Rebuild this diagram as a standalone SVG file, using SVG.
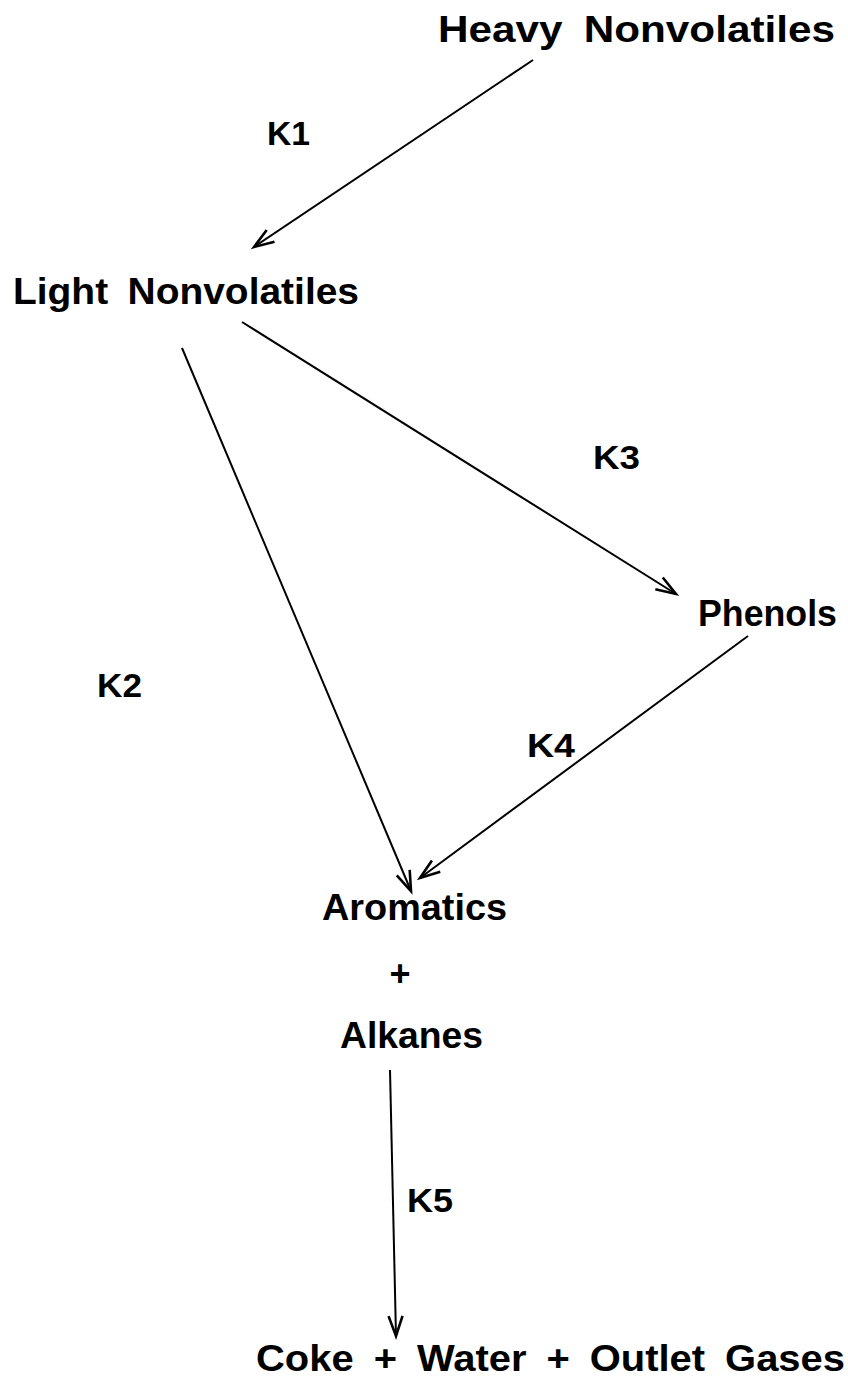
<svg xmlns="http://www.w3.org/2000/svg" width="848" height="1379" viewBox="0 0 848 1379">
<defs>
<marker id="arr" markerUnits="userSpaceOnUse" markerWidth="40" markerHeight="40" refX="0" refY="0" viewBox="-25 -20 30 40" orient="auto">
<path d="M-20,-7 L0,0 L-20,7" fill="none" stroke="#000" stroke-width="2.6" stroke-linejoin="miter"/>
</marker>
<style>
.t{font-family:"Liberation Sans",Arial,sans-serif;font-weight:bold;font-size:36px;fill:#000;word-spacing:8px}
.k{font-family:"Liberation Sans",Arial,sans-serif;font-weight:bold;font-size:33px;fill:#000}
.e{stroke:#000;stroke-width:2;fill:none;marker-end:url(#arr)}
</style>
</defs>
<rect width="848" height="1379" fill="#fff"/>
<g id="connectors">
<line class="e" x1="533" y1="60" x2="254" y2="247"/>
<line class="e" x1="182" y1="348" x2="411" y2="891"/>
<line class="e" x1="242" y1="322" x2="676" y2="594"/>
<line class="e" x1="748" y1="636" x2="420" y2="878"/>
<line class="e" x1="390" y1="1070" x2="396" y2="1336"/>
</g>
<g id="heavy"><text class="t" x="438" y="42" textLength="397" lengthAdjust="spacingAndGlyphs">Heavy Nonvolatiles</text></g>
<g id="light"><text class="t" x="13" y="304" textLength="346" lengthAdjust="spacingAndGlyphs">Light Nonvolatiles</text></g>
<g id="phenols"><text class="t" x="698" y="626" textLength="139" lengthAdjust="spacingAndGlyphs">Phenols</text></g>
<g id="aromatics"><text class="t" x="322" y="920" textLength="185" lengthAdjust="spacingAndGlyphs">Aromatics</text>
<text class="t" x="400" y="986" text-anchor="middle">+</text>
<text class="t" x="340" y="1048" textLength="143" lengthAdjust="spacingAndGlyphs">Alkanes</text></g>
<g id="products"><text class="t" x="256" y="1371" textLength="589" lengthAdjust="spacingAndGlyphs">Coke + Water + Outlet Gases</text></g>
<g id="labels">
<text class="k" x="267" y="145" textLength="43" lengthAdjust="spacingAndGlyphs">K1</text>
<text class="k" x="97" y="697" textLength="45" lengthAdjust="spacingAndGlyphs">K2</text>
<text class="k" x="593" y="469" textLength="47" lengthAdjust="spacingAndGlyphs">K3</text>
<text class="k" x="527" y="757" textLength="48" lengthAdjust="spacingAndGlyphs">K4</text>
<text class="k" x="407" y="1212" textLength="46" lengthAdjust="spacingAndGlyphs">K5</text>
</g>
</svg>
